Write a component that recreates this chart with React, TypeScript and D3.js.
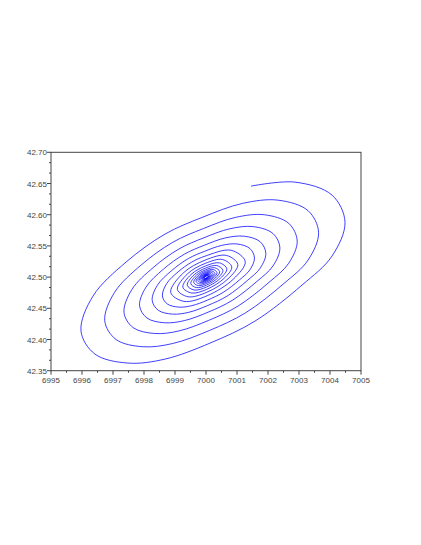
import * as React from "react";
import * as d3 from "d3";

// tick labels
const xTicks = [6995, 6996, 6997, 6998, 6999, 7000, 7001, 7002, 7003, 7004, 7005];
const yTicks = [42.35, 42.4, 42.45, 42.5, 42.55, 42.6, 42.65, 42.7];

// spiral (x, y)
const turn0 = [
  [7001.452, 42.6458], [7002.871, 42.6522], [7004.065, 42.6314], [7004.484, 42.5881],
  [7004.065, 42.5337], [7003.097, 42.4872], [7001.581, 42.4295], [7000.129, 42.3942],
  [6998.677, 42.3686], [6997.484, 42.3622], [6996.419, 42.3766], [6995.968, 42.4135],
  [6996.355, 42.4696], [6997.419, 42.524], [6998.677, 42.5689], [6999.903, 42.5962],
];
const turn1 = [
  [7001.176, 42.6181], [7002.326, 42.6233], [7003.293, 42.6064], [7003.632, 42.5714],
  [7003.293, 42.5273], [7002.509, 42.4896], [7001.281, 42.4429], [7000.104, 42.4143],
  [6998.928, 42.3936], [6997.962, 42.3884], [6997.099, 42.4], [6996.734, 42.4299],
  [6997.048, 42.4754], [6997.909, 42.5194], [6998.928, 42.5558], [6999.921, 42.5779],
];
const turn2 = [
  [7000.953, 42.5957], [7001.884, 42.5999], [7002.667, 42.5862], [7002.942, 42.5578],
  [7002.667, 42.5221], [7002.032, 42.4916], [7001.037, 42.4537], [7000.085, 42.4306],
  [6999.132, 42.4138], [6998.349, 42.4096], [6997.651, 42.419], [6997.355, 42.4432],
  [6997.609, 42.4801], [6998.307, 42.5157], [6999.132, 42.5452], [6999.936, 42.5631],
];
const turn3 = [
  [7000.772, 42.5775], [7001.526, 42.5809], [7002.16, 42.5698], [7002.383, 42.5468],
  [7002.16, 42.5179], [7001.646, 42.4932], [7000.84, 42.4625], [7000.069, 42.4438],
  [6999.297, 42.4302], [6998.663, 42.4268], [6998.097, 42.4344], [6997.857, 42.454],
  [6998.063, 42.4838], [6998.628, 42.5128], [6999.297, 42.5366], [6999.948, 42.5511],
];
const turn4 = [
  [7000.625, 42.5628], [7001.236, 42.5655], [7001.75, 42.5566], [7001.93, 42.5379],
  [7001.75, 42.5145], [7001.333, 42.4945], [7000.681, 42.4696], [7000.056, 42.4545],
  [6999.43, 42.4434], [6998.917, 42.4407], [6998.458, 42.4469], [6998.264, 42.4628],
  [6998.431, 42.4869], [6998.889, 42.5103], [6999.43, 42.5297], [6999.958, 42.5414],
];
const turn5 = [
  [7000.506, 42.5508], [7001.001, 42.5531], [7001.417, 42.5458], [7001.564, 42.5307],
  [7001.417, 42.5118], [7001.08, 42.4955], [7000.551, 42.4754], [7000.045, 42.4631],
  [6999.539, 42.4542], [6999.123, 42.4519], [6998.751, 42.457], [6998.594, 42.4698],
  [6998.729, 42.4894], [6999.1, 42.5084], [6999.539, 42.524], [6999.966, 42.5335],
];
const innerTurns = [
  [[7000.811, 42.543], [7001.266, 42.5249], [7000.875, 42.4964], [7000.036, 42.4701], [6999.289, 42.4611], [6998.861, 42.4756], [6999.271, 42.5068], [6999.973, 42.5272]],
  [[7000.657, 42.5348], [7001.026, 42.5202], [7000.709, 42.4971], [7000.03, 42.4758], [6999.424, 42.4685], [6999.077, 42.4802], [6999.409, 42.5055], [6999.978, 42.522]],
  [[7000.532, 42.5282], [7000.831, 42.5163], [7000.574, 42.4976], [7000.024, 42.4804], [6999.534, 42.4745], [6999.253, 42.484], [6999.522, 42.5044], [6999.982, 42.5178]],
  [[7000.431, 42.5228], [7000.673, 42.5132], [7000.465, 42.4981], [7000.019, 42.4841], [6999.622, 42.4793], [6999.395, 42.487], [6999.613, 42.5036], [6999.985, 42.5144]],
  [[7000.349, 42.5185], [7000.545, 42.5107], [7000.377, 42.4984], [7000.016, 42.4871], [6999.694, 42.4832], [6999.51, 42.4895], [6999.686, 42.5029], [6999.988, 42.5117]],
  [[7000.283, 42.515], [7000.442, 42.5087], [7000.305, 42.4987], [7000.013, 42.4896], [6999.752, 42.4864], [6999.603, 42.4915], [6999.746, 42.5024], [6999.99, 42.5095]],
  [[7000.229, 42.5121], [7000.358, 42.507], [7000.247, 42.499], [7000.01, 42.4916], [6999.799, 42.489], [6999.678, 42.4931], [6999.794, 42.5019], [6999.992, 42.5077]],
  [[7000.185, 42.5098], [7000.29, 42.5057], [7000.2, 42.4992], [7000.008, 42.4932], [6999.837, 42.4911], [6999.74, 42.4944], [6999.833, 42.5016], [6999.994, 42.5062]],
  [[7000.15, 42.508], [7000.235, 42.5046], [7000.162, 42.4993], [7000.007, 42.4945], [6999.868, 42.4928], [6999.789, 42.4955], [6999.865, 42.5013], [6999.995, 42.505]],
  [[7000.122, 42.5065], [7000.19, 42.5037], [7000.131, 42.4995], [7000.005, 42.4955], [6999.893, 42.4942], [6999.829, 42.4963], [6999.891, 42.501], [6999.996, 42.5041]],
  [[7000.098, 42.5052], [7000.154, 42.503], [7000.106, 42.4996], [7000.004, 42.4964], [6999.914, 42.4953], [6999.862, 42.497], [6999.911, 42.5008], [6999.997, 42.5033]],
  [[7000.08, 42.5042], [7000.125, 42.5024], [7000.086, 42.4996], [7000.004, 42.4971], [6999.93, 42.4962], [6999.888, 42.4976], [6999.928, 42.5007], [6999.997, 42.5027]],
  [[7000.065, 42.5034], [7000.101, 42.502], [7000.07, 42.4997], [7000.003, 42.4976], [6999.943, 42.4969], [6999.909, 42.4981], [6999.942, 42.5005], [6999.998, 42.5022]],
  [[7000.052, 42.5028], [7000.082, 42.5016], [7000.056, 42.4998], [7000.002, 42.4981], [6999.954, 42.4975], [6999.927, 42.4984], [6999.953, 42.5004], [6999.998, 42.5018]],
  [[7000.042, 42.5023], [7000.066, 42.5013], [7000.046, 42.4998], [7000.002, 42.4984], [6999.963, 42.498], [6999.94, 42.4987], [6999.962, 42.5004], [6999.999, 42.5014]],
];
const endPoint = [7000, 42.5];

const spiral = [...turn0, ...turn1, ...turn2, ...turn3, ...turn4, ...turn5, ...innerTurns.flat(), endPoint];

const App = () => {
  const width = 421;
  const height = 545;
  const left = 51, right = 361, top = 152.3, bottom = 370.7;

  const x = d3.scaleLinear().domain([6995, 7005]).range([left, right]);
  const y = d3.scaleLinear().domain([42.35, 42.7]).range([bottom, top]);

  const line = d3
    .line()
    .x(d => x(d[0]))
    .y(d => y(d[1]))
    .curve(d3.curveCatmullRom);

  const xMinor = xTicks.slice(0, -1).map(t => t + 0.5);
  const yMinor = [];
  yTicks.slice(0, -1).forEach(t => {
    yMinor.push(t + 0.05 / 3, t + 0.1 / 3);
  });

  const font = "Liberation Sans, Arial, sans-serif";

  return (
    <svg width={width} height={height} style={{ position: "absolute", left: 0, top: 0, background: "#fff" }}>
      <rect x={left} y={top} width={right - left} height={bottom - top} fill="none" stroke="#444" strokeWidth={1} />
      <path d={line(spiral)} fill="none" stroke="#0000ff" strokeWidth={0.75} />

      {xTicks.map(t => (
        <g key={"x" + t}>
          <line x1={x(t)} x2={x(t)} y1={bottom} y2={bottom + 4} stroke="#444" />
          <text x={x(t)} y={bottom + 12.5} fontSize={8} fontFamily={font} textAnchor="middle" fill="#444">
            {t}
          </text>
        </g>
      ))}
      {xMinor.map(t => (
        <line key={"xm" + t} x1={x(t)} x2={x(t)} y1={bottom} y2={bottom + 2} stroke="#444" />
      ))}

      {yTicks.map(t => (
        <g key={"y" + t}>
          <line x1={left - 4} x2={left} y1={y(t)} y2={y(t)} stroke="#444" />
          <text x={left - 4} y={y(t) + 3} fontSize={8} fontFamily={font} textAnchor="end" fill="#444">
            {t.toFixed(2)}
          </text>
        </g>
      ))}
      {yMinor.map(t => (
        <line key={"ym" + t} x1={left - 2} x2={left} y1={y(t)} y2={y(t)} stroke="#444" />
      ))}
    </svg>
  );
};

export default App;
